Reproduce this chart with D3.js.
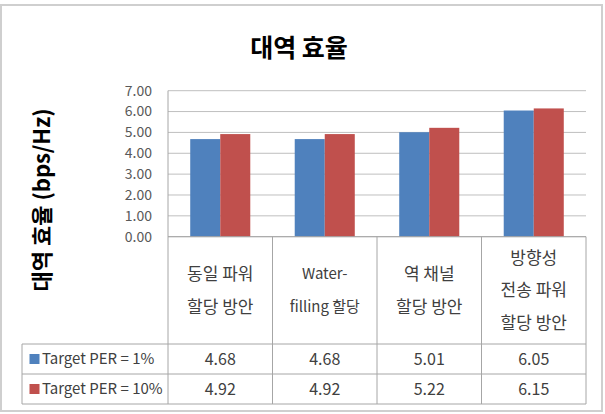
<!DOCTYPE html>
<html>
<head>
<meta charset="utf-8">
<script src="https://cdn.jsdelivr.net/npm/d3@7"></script>
<style>
  body { margin: 0; background: #fff; }
  text { font-family: "Noto Sans CJK KR", "Noto Sans", sans-serif; }
</style>
</head>
<body>
<div id="chart"></div>
<script>
const categories = [["동일 파워", "할당 방안"], ["Water-", "filling 할당"], ["역 채널", "할당 방안"], ["방향성", "전송 파워", "할당 방안"]];
const seriesNames = ["Target PER = 1%", "Target PER = 10%"];
const per1 = [4.68, 4.68, 5.01, 6.05];
const per10 = [4.92, 4.92, 5.22, 6.15];
const yTicks = [0, 1, 2, 3, 4, 5, 6, 7];
const colors = ["#4F81BD", "#C0504D"];

const width = 605, height = 414;
const plotLeft = 168, plotRight = 586, plotTop = 90.7, plotBottom = 236.7;
const tableLeft = 22, row1 = 344, row2 = 374, tableBottom = 404;

const svg = d3.select("#chart").append("svg")
    .attr("width", width)
    .attr("height", height);

// chart frame
svg.append("rect")
    .attr("x", 1).attr("y", 5)
    .attr("width", 601).attr("height", 406)
    .attr("fill", "none")
    .attr("stroke", "#cfcfcf")
    .attr("stroke-width", 2);

svg.append("text")
    .attr("x", 299).attr("y", 57)
    .attr("text-anchor", "middle")
    .style("font-size", "25px")
    .style("font-weight", "bold")
    .text("대역 효율");

svg.append("text")
    .attr("transform", "translate(50,200) rotate(-90)")
    .attr("text-anchor", "middle")
    .style("font-size", "22px")
    .style("font-weight", "bold")
    .text("대역 효율 (bps/Hz)");

const keys = categories.map((c, i) => i);
const x = d3.scaleBand().domain(keys).range([plotLeft, plotRight]);
const x1 = d3.scaleBand().domain([0, 1]).range([0, x.bandwidth()]).paddingOuter(0.74);
const y = d3.scaleLinear().domain([0, 7]).range([plotBottom, plotTop]);

// gridlines
svg.append("g")
    .selectAll("line")
    .data(yTicks)
    .join("line")
    .attr("x1", plotLeft).attr("x2", plotRight)
    .attr("y1", d => y(d)).attr("y2", d => y(d))
    .attr("stroke", "#bfbfbf")
    .attr("stroke-width", 1);

svg.append("g")
    .selectAll("text")
    .data(yTicks)
    .join("text")
    .attr("x", 152)
    .attr("y", d => y(d))
    .attr("dy", "0.35em")
    .attr("text-anchor", "end")
    .attr("fill", "#595959")
    .style("font-size", "14px")
    .text(d => d.toFixed(2));

// bars
const series = [per1, per10];
series.forEach(function(vals, s) {
    svg.append("g")
        .selectAll("rect")
        .data(vals)
        .join("rect")
        .attr("x", (d, i) => x(i) + x1(s))
        .attr("width", x1.bandwidth())
        .attr("y", d => y(d))
        .attr("height", d => y(0) - y(d))
        .attr("fill", colors[s]);
});

// table lines
const lineColor = "#a6a6a6";
const tbl = svg.append("g").attr("stroke", lineColor).attr("stroke-width", 1);
tbl.append("line").attr("x1", plotLeft).attr("x2", plotLeft).attr("y1", plotTop).attr("y2", tableBottom);
tbl.append("line").attr("x1", plotLeft).attr("x2", plotRight).attr("y1", plotBottom).attr("y2", plotBottom);
[row1, row2, tableBottom].forEach(function(yy) {
    tbl.append("line").attr("x1", tableLeft).attr("x2", plotRight).attr("y1", yy).attr("y2", yy);
});
tbl.append("line").attr("x1", tableLeft).attr("x2", tableLeft).attr("y1", row1).attr("y2", tableBottom);
keys.forEach(function(k) {
    tbl.append("line")
        .attr("x1", x(k) + x.bandwidth()).attr("x2", x(k) + x.bandwidth())
        .attr("y1", plotBottom).attr("y2", tableBottom);
});

// category labels
const lineGap = 32.5;
categories.forEach(function(lines, i) {
    const cy = (plotBottom + row1) / 2;
    const start = cy - (lines.length - 1) * lineGap / 2;
    svg.append("g")
        .selectAll("text")
        .data(lines)
        .join("text")
        .attr("x", x(i) + x.bandwidth() / 2)
        .attr("y", (d, j) => start + j * lineGap)
        .attr("dy", "0.35em")
        .attr("text-anchor", "middle")
        .attr("fill", "#404040")
        .style("font-size", d => /^[A-Za-z]/.test(d) ? "15px" : "17px")
        .text(d => d);
});

// data rows
const rowMid = [(row1 + row2) / 2, (row2 + tableBottom) / 2];
series.forEach(function(vals, s) {
    svg.append("rect")
        .attr("x", 29.5).attr("y", rowMid[s] - 5)
        .attr("width", 10).attr("height", 10)
        .attr("fill", colors[s]);
    svg.append("text")
        .attr("x", 42).attr("y", rowMid[s])
        .attr("dy", "0.35em")
        .attr("fill", "#404040")
        .style("font-size", "15px")
        .text(seriesNames[s]);
    svg.append("g")
        .selectAll("text")
        .data(vals)
        .join("text")
        .attr("x", (d, i) => x(i) + x.bandwidth() / 2)
        .attr("y", rowMid[s])
        .attr("dy", "0.35em")
        .attr("text-anchor", "middle")
        .attr("fill", "#404040")
        .style("font-size", "16px")
        .text(d => d.toFixed(2));
});
</script>
</body>
</html>
